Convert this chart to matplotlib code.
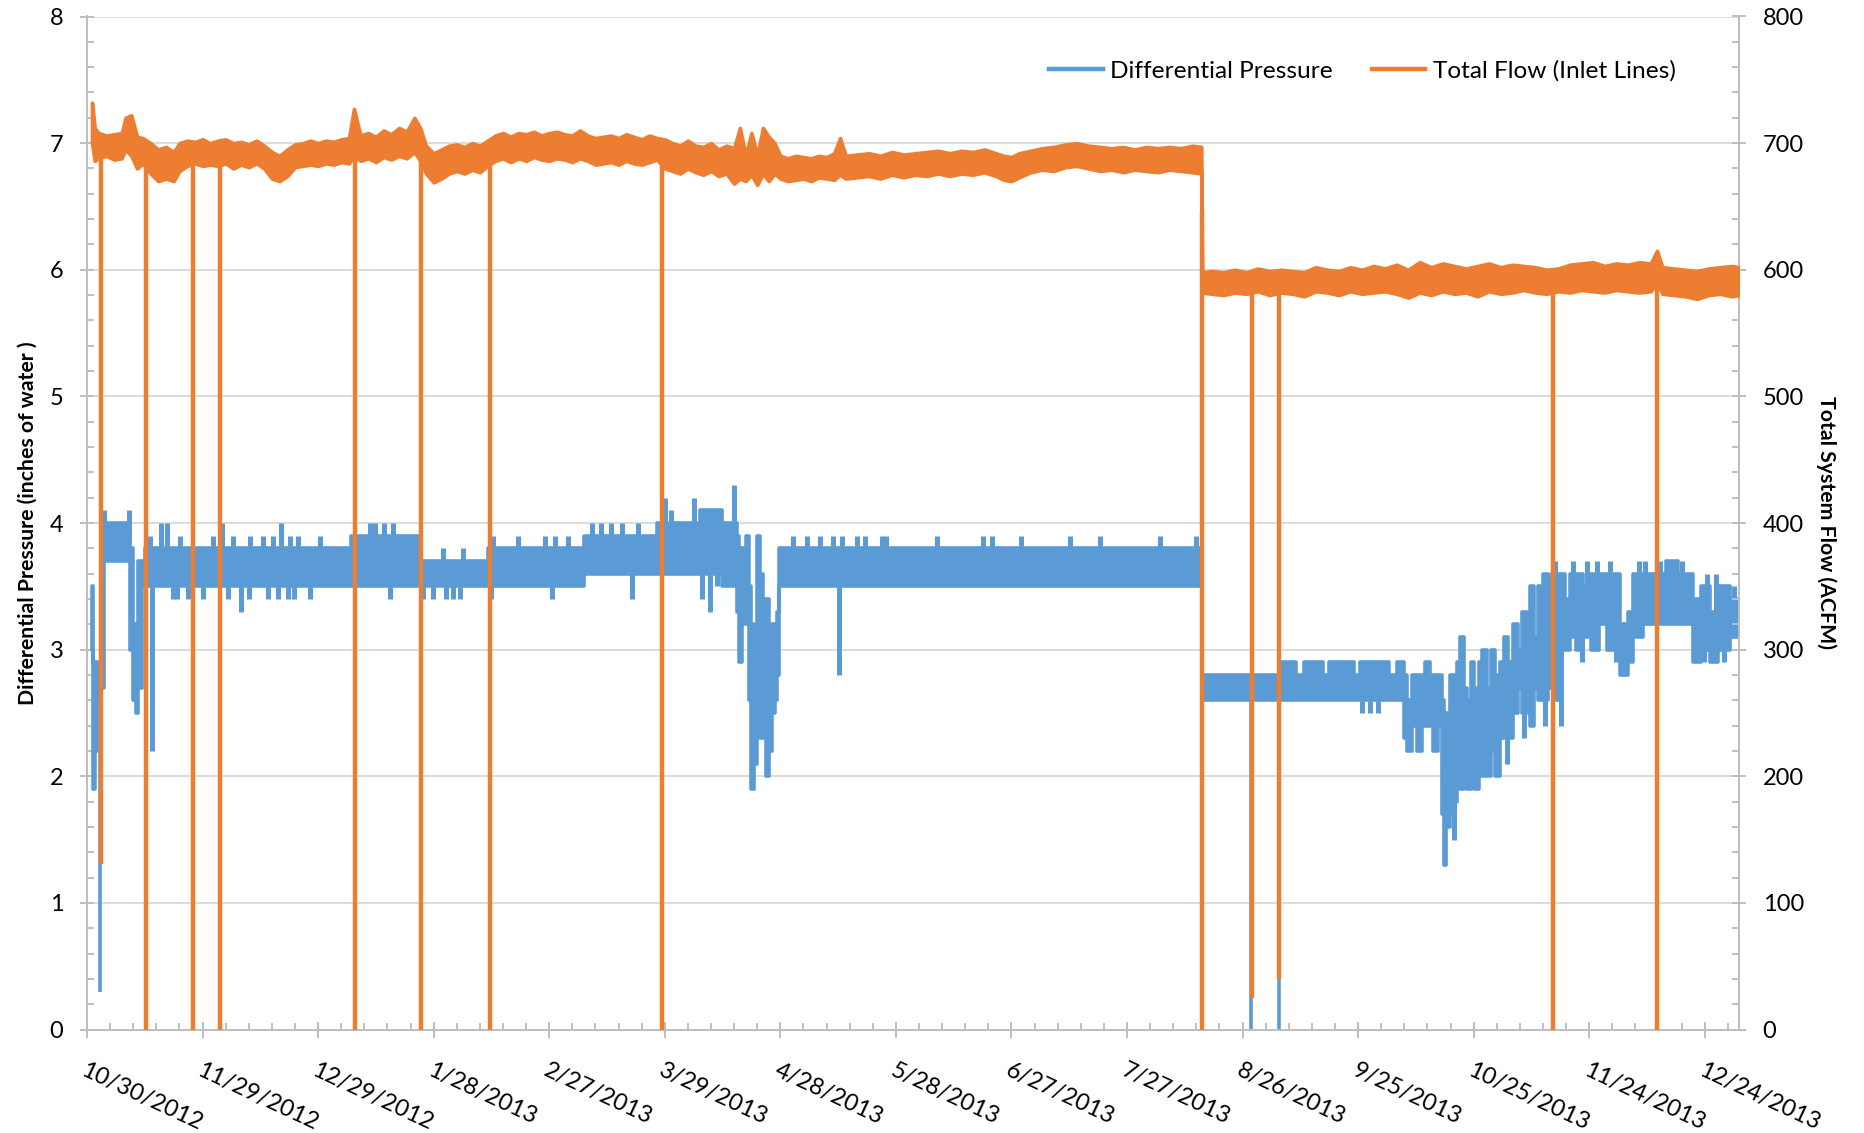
import numpy as np
import matplotlib
matplotlib.use("Agg")
import matplotlib.pyplot as plt
import matplotlib.dates as mdates
from matplotlib.ticker import FixedLocator, FuncFormatter, MultipleLocator
from matplotlib.lines import Line2D

plt.rcParams['font.family'] = ['Lato', 'DejaVu Sans']

BLUE = '#5B9BD5'
ORANGE = '#ED7D31'

# days since 10/30/2012
start = '2012-10-30'

# differential pressure (in. water): band of readings, day where each level starts
dp_day = [1.3, 1.5, 2.0, 2.6, 3.3, 3.7, 4.3, 11.2, 12.0, 12.7, 13.3, 14.3, 15.0,
          68.5, 86.5, 104.0, 129.0, 148.0, 159.2, 164.8,
          168.7, 169.3, 170.0, 171.0, 171.8, 172.4, 173.2, 173.9, 174.7, 175.5,
          176.2, 177.0, 177.8, 178.6, 179.2, 179.6,
          289.5, 309.5, 314.0, 316.0, 321.0, 322.5, 329.0, 330.5,
          336.0, 338.0, 340.0, 341.8, 342.8, 344.0, 345.2, 346.5, 347.4, 348.6,
          349.5, 350.8, 351.7, 352.2, 352.9, 353.8, 354.8, 355.6, 356.4, 357.5,
          358.4, 359.2, 360.2, 361.3, 362.3, 363.4, 364.5, 365.6, 366.8, 368.0,
          369.0, 370.3, 371.5, 372.6, 373.8, 374.6, 375.8, 376.8, 378.0, 379.2,
          380.0, 381.5, 382.4, 383.8, 385.0, 386.5, 388.5, 390.5, 392.5, 394.5,
          396.0, 398.0, 400.0, 401.5, 404.0, 406.7, 410.0, 413.0, 417.0, 419.0,
          421.5, 423.5, 426.6, 428.8]
dp_lo = [3.0, 1.9, 2.2, 2.6, 2.7, 2.7, 3.7, 3.0, 2.6, 2.5, 2.7, 3.5, 3.5,
         3.5, 3.5, 3.5, 3.6, 3.6, 3.6, 3.5,
         3.3, 2.9, 3.2, 3.4, 2.6, 1.9, 2.1, 2.5, 2.3, 2.6,
         2.0, 2.2, 2.5, 2.6, 2.8, 3.5,
         2.6, 2.6, 2.6, 2.6, 2.6, 2.6, 2.6, 2.6,
         2.6, 2.6, 2.6, 2.3, 2.2, 2.4, 2.2, 2.5, 2.4, 2.6,
         2.2, 2.4, 1.7, 1.3, 1.6, 1.7, 1.8, 2.0, 1.9, 2.1,
         1.9, 2.0, 1.9, 2.2, 2.0, 2.0, 2.2, 2.0, 2.3, 2.5,
         2.3, 2.5, 2.7, 2.5, 2.8, 2.4, 2.7, 2.6, 2.6, 2.7,
         3.0, 2.6, 3.0, 3.0, 3.1, 3.0, 3.1, 3.0, 3.2, 3.0,
         3.0, 2.8, 2.9, 3.1, 3.2, 3.2, 3.2, 3.2, 2.9, 3.0,
         2.9, 3.0, 3.1, 3.1]
dp_hi = [3.5, 2.9, 2.9, 2.9, 2.9, 3.9, 4.0, 3.8, 3.2, 2.8, 3.7, 3.7, 3.8,
         3.9, 3.7, 3.8, 3.9, 4.0, 4.1, 4.0,
         3.9, 3.8, 3.8, 3.9, 3.5, 3.2, 2.8, 3.9, 3.6, 3.2,
         3.4, 2.9, 3.2, 3.0, 3.3, 3.8,
         2.8, 2.9, 2.8, 2.9, 2.8, 2.9, 2.8, 2.9,
         2.9, 2.8, 2.9, 2.8, 2.6, 2.8, 2.8, 2.8, 2.9, 2.8,
         2.8, 2.8, 2.6, 2.2, 2.5, 2.8, 2.4, 2.9, 3.1, 2.7,
         2.6, 2.9, 2.7, 2.9, 3.0, 2.7, 3.0, 2.8, 2.9, 3.1,
         2.9, 3.2, 3.0, 3.3, 3.1, 3.5, 3.1, 3.5, 3.6, 3.4,
         3.6, 3.6, 3.6, 3.4, 3.6, 3.6, 3.5, 3.6, 3.6, 3.5,
         3.6, 3.2, 3.3, 3.6, 3.6, 3.6, 3.7, 3.6, 3.4, 3.5,
         3.3, 3.5, 3.4, 3.4]

# short excursions of the pressure outside its band
dp_spike_day = [4.4, 10.9, 16.3, 19.3, 20.8, 24.1, 32.8, 35.0, 38.0, 42.3, 45.8,
                48.3, 50.3, 52.7, 54.9, 60.5, 73.5, 74.8, 77.0, 79.5, 92.5, 97.7,
                105.5, 112.0, 118.9, 121.5, 125.0, 131.0, 133.5, 136.0, 139.0,
                143.0, 150.0, 151.5, 157.7, 168.0, 183.4, 186.9, 190.3, 193.8,
                195.9, 199.8, 202.0, 206.5, 207.5, 220.6, 232.7, 234.9, 242.4,
                255.2, 263.0, 278.5, 288.0, 381.2, 385.8,
                389.5, 392.0, 395.5, 403.0, 404.5, 408.5, 411.0, 414.2, 420.5,
                422.8, 427.5,
                17.0, 22.2, 23.3, 26.3, 30.2, 36.7, 40.1, 42.0, 47.1, 49.7, 52.2,
                53.8, 58.0, 78.6, 87.3, 89.9, 93.3, 95.0, 96.8, 105.0, 120.6,
                141.5, 159.6, 161.8, 163.5, 195.3, 331.0, 333.0, 335.2, 355.0,
                368.6, 373.0, 378.5, 382.8, 388.2, 397.0, 419.8, 425.0]
dp_spike_val = [4.1, 4.1, 3.9, 4.0, 4.0, 3.9, 3.9, 4.0, 3.9, 3.9, 3.9,
                3.9, 4.0, 3.9, 3.9, 3.9, 4.0, 4.0, 4.0, 4.0, 3.8, 3.8,
                3.9, 3.9, 3.9, 3.9, 3.9, 4.0, 4.0, 4.0, 4.0,
                4.0, 4.2, 4.1, 4.2, 4.3, 3.9, 3.9, 3.9, 3.9,
                3.9, 3.9, 3.9, 3.9, 3.9, 3.9, 3.9, 3.9, 3.9,
                3.9, 3.9, 3.9, 3.9, 3.7, 3.7,
                3.7, 3.7, 3.7, 3.7, 3.7, 3.7, 3.7, 3.7, 3.6,
                3.6, 3.5,
                2.2, 3.4, 3.4, 3.4, 3.4, 3.4, 3.3, 3.4, 3.4, 3.4, 3.4,
                3.4, 3.4, 3.4, 3.4, 3.4, 3.4, 3.4, 3.4, 3.4, 3.4,
                3.4, 3.4, 3.3, 3.5, 2.8, 2.5, 2.5, 2.5, 1.5,
                2.1, 2.3, 2.4, 2.4, 2.9, 2.9, 2.9, 2.9]

# pressure readings that fell to the floor with the flow
dp_drop_day = [3.45, 302.3, 309.4]
dp_drop_val = [0.3, 0.0, 0.0]

# total flow (ACFM): low / high of the trace
flow_day = [1.3, 2.0, 3.0, 5.0, 7.0, 9.0, 10.0, 11.5, 13.0, 14.5, 16.5, 18.5, 20.5,
            22.5, 24.0, 26, 28, 30, 32, 34, 36, 38, 40, 42, 44, 46, 48, 50, 52,
            54, 56, 58, 60, 62, 64, 66, 68, 69.3, 71, 73, 75, 77, 79, 81, 83, 85,
            86.5, 88, 90, 92, 94, 96, 98, 100, 102, 104, 106, 108, 110, 112, 114,
            116, 118, 120, 122, 124, 126, 128, 130, 132, 134, 136, 138, 140, 142,
            144, 146, 148, 150, 152, 154, 156, 158, 160, 162, 164, 166, 168,
            169.5, 171, 172.5, 174, 175.5, 177, 178.5, 180, 182, 184, 186, 188,
            190, 192, 194, 195.5, 197, 200, 203, 206, 209, 212, 215, 218, 221,
            224, 227, 230, 233, 236, 238, 240, 242, 245, 248, 251, 254, 257, 260,
            263, 266, 269, 272, 275, 278, 281, 284, 287, 289.3, 289.5, 292, 295,
            298, 301, 304, 307, 310, 313, 316, 319, 322, 325, 328, 331, 334, 337,
            340, 343, 346, 349, 352, 355, 358, 361, 364, 367, 370, 373, 376, 379,
            382, 385, 388, 391, 394, 397, 400, 403, 406, 407.6, 409, 412, 415,
            418, 421, 424, 427, 428.8]
flow_lo = [700, 686, 688, 690, 687, 688, 695, 690, 680, 684, 676, 670, 672,
           670, 678, 682, 684, 682, 683, 682, 684, 680, 683, 681, 684, 680, 672, 670, 674,
           681, 682, 683, 682, 684, 683, 685, 684, 690, 686, 688, 685, 689, 687, 690, 688, 693,
           686, 676, 669, 672, 676, 678, 676, 679, 677, 682, 686, 688, 685, 688, 686,
           689, 687, 686, 688, 687, 685, 688, 686, 683, 684, 685, 683, 686, 684,
           683, 685, 687, 680, 678, 676, 680, 677, 675, 678, 674, 676, 668,
           672, 670, 675, 667, 676, 670, 676, 672, 670, 671, 672, 670,
           673, 672, 671, 675, 672, 673, 674, 672, 675, 673, 675, 674, 676,
           674, 676, 675, 677, 674, 671, 670, 673, 677, 679, 678, 681, 682, 680,
           678, 679, 677, 679, 678, 677, 679, 678, 677, 676, 582, 581, 580,
           582, 581, 583, 580, 582, 581, 579, 583, 582, 580, 583, 581, 582, 583,
           581, 578, 582, 580, 583, 581, 582, 579, 583, 581, 582, 584, 582, 581,
           583, 582, 584, 583, 582, 584, 583, 582, 583, 590, 581, 580, 579,
           577, 580, 581, 579, 580]
flow_hi = [732, 712, 708, 706, 707, 708, 720, 722, 705, 704, 700, 695, 697,
           693, 700, 702, 701, 703, 700, 702, 703, 700, 701, 699, 702, 698, 693, 690, 695,
           699, 700, 702, 700, 702, 701, 703, 704, 727, 706, 708, 705, 710, 707, 712, 709, 720,
           712, 698, 692, 695, 698, 699, 697, 700, 698, 702, 706, 708, 705, 708, 707,
           709, 706, 708, 709, 707, 706, 710, 706, 704, 705, 706, 704, 707, 705,
           703, 706, 704, 703, 700, 698, 702, 698, 697, 700, 695, 698, 696,
           712, 690, 708, 690, 712, 705, 700, 690, 688, 690, 689, 688,
           690, 689, 692, 704, 690, 691, 692, 690, 693, 691, 692, 693, 694,
           692, 694, 693, 695, 692, 690, 689, 692, 694, 696, 697, 699, 700, 698,
           697, 696, 697, 695, 697, 696, 697, 696, 698, 697, 598, 599, 598,
           600, 598, 601, 599, 600, 599, 598, 602, 600, 599, 602, 600, 603, 601,
           604, 600, 606, 602, 605, 603, 601, 603, 605, 602, 604, 603, 602, 600,
           601, 604, 605, 606, 603, 605, 604, 606, 605, 615, 602, 601, 600,
           599, 601, 602, 603, 602]

# flow dropouts: day and lowest reading
drop_day = [3.55, 15.4, 27.6, 34.5, 69.5, 86.7, 104.5, 149.4, 289.4, 302.4, 309.5, 380.6, 407.5]
drop_val = [131, 0, 0, 0, 0, 0, 0, 0, 0, 25, 40, 0, 0]

x0 = mdates.datestr2num(start)


def xd(days):
    return x0 + np.asarray(days, dtype=float)


fig = plt.figure(figsize=(18.64, 11.33), dpi=100)
ax = fig.add_axes([87 / 1864, 1 - 1029.5 / 1133, 1652 / 1864, 1013 / 1133])
ax2 = ax.twinx()

# --- differential pressure
ax.fill_between(xd(dp_day), dp_lo, dp_hi, step='post', facecolor=BLUE,
                edgecolor=BLUE, linewidth=2.6, zorder=3)
idx = np.searchsorted(dp_day, dp_spike_day, side='right') - 1
mid = (np.array(dp_lo)[idx] + np.array(dp_hi)[idx]) / 2
ax.vlines(xd(dp_spike_day), mid, dp_spike_val, color=BLUE, linewidth=3.6, zorder=3)
idx = np.searchsorted(dp_day, dp_drop_day, side='right') - 1
ax.vlines(xd(dp_drop_day), dp_drop_val, np.array(dp_lo)[idx], color=BLUE,
          linewidth=2.6, zorder=3)

# --- flow
ax2.fill_between(xd(flow_day), flow_lo, flow_hi, facecolor=ORANGE,
                 edgecolor=ORANGE, linewidth=2.6, zorder=3)
top = np.interp(drop_day, flow_day, flow_hi)
ax2.vlines(xd(drop_day), drop_val, top, color=ORANGE, linewidth=3.2, zorder=3)

# --- axes
ax.set_xlim(x0, x0 + 428.9)
ax.set_ylim(0, 8)
ax2.set_ylim(0, 800)

ax.xaxis.set_major_locator(FixedLocator(x0 + 30 * np.arange(15)))
ax.xaxis.set_minor_locator(FixedLocator(x0 + 6 * np.arange(72)))


def date_lbl(v, pos):
    d = mdates.num2date(v)
    return f"{d.month}/{d.day}/{d.year}"


ax.xaxis.set_major_formatter(FuncFormatter(date_lbl))
ax.yaxis.set_major_locator(MultipleLocator(1))
ax.yaxis.set_minor_locator(MultipleLocator(0.2))
ax2.yaxis.set_major_locator(MultipleLocator(100))
ax2.yaxis.set_minor_locator(MultipleLocator(20))

ax.grid(axis='y', which='major', color='#D9D9D9', linewidth=1.3)
ax.set_axisbelow(True)

axis_col = '#BFBFBF'
for a in (ax, ax2):
    for s in a.spines.values():
        s.set_color(axis_col)
        s.set_linewidth(1.4)
    a.spines['top'].set_visible(False)

ax.tick_params(axis='x', which='major', direction='inout', length=11, width=1.4,
               color=axis_col, labelsize=17, pad=16)
ax.tick_params(axis='x', which='minor', direction='in', length=5, width=1.4, color=axis_col)
ax.tick_params(axis='y', which='major', direction='inout', length=10, width=1.4,
               color=axis_col, labelsize=17, pad=12)
ax.tick_params(axis='y', which='minor', direction='in', length=5, width=1.4, color=axis_col)
ax2.tick_params(axis='y', which='major', direction='inout', length=10, width=1.4,
                color=axis_col, labelsize=17, pad=12)
ax2.tick_params(axis='y', which='minor', direction='in', length=5, width=1.4, color=axis_col)

for lbl in ax.get_xticklabels():
    lbl.set_rotation(-25)
    lbl.set_ha('left')
    lbl.set_va('top')
    lbl.set_rotation_mode('anchor')

ax.set_ylabel('Differential Pressure (inches of water )', fontsize=15.3, fontweight='bold')
ax.yaxis.set_label_coords(-0.030, 0.5)
ax2.set_ylabel('Total System Flow (ACFM)', fontsize=15.3, fontweight='bold', rotation=270,
               va='center')
ax2.yaxis.set_label_coords(1.053, 0.5)

handles = [Line2D([], [], color=BLUE, linewidth=3.2),
           Line2D([], [], color=ORANGE, linewidth=3.2)]
ax.legend(handles, ['Differential Pressure', 'Total Flow (Inlet Lines)'],
          loc='center right', bbox_to_anchor=(0.975, 0.946), ncol=2, frameon=False,
          fontsize=17.6, handlelength=2.2, handletextpad=0.3, columnspacing=1.6)

fig.savefig('out.png', dpi=100)
